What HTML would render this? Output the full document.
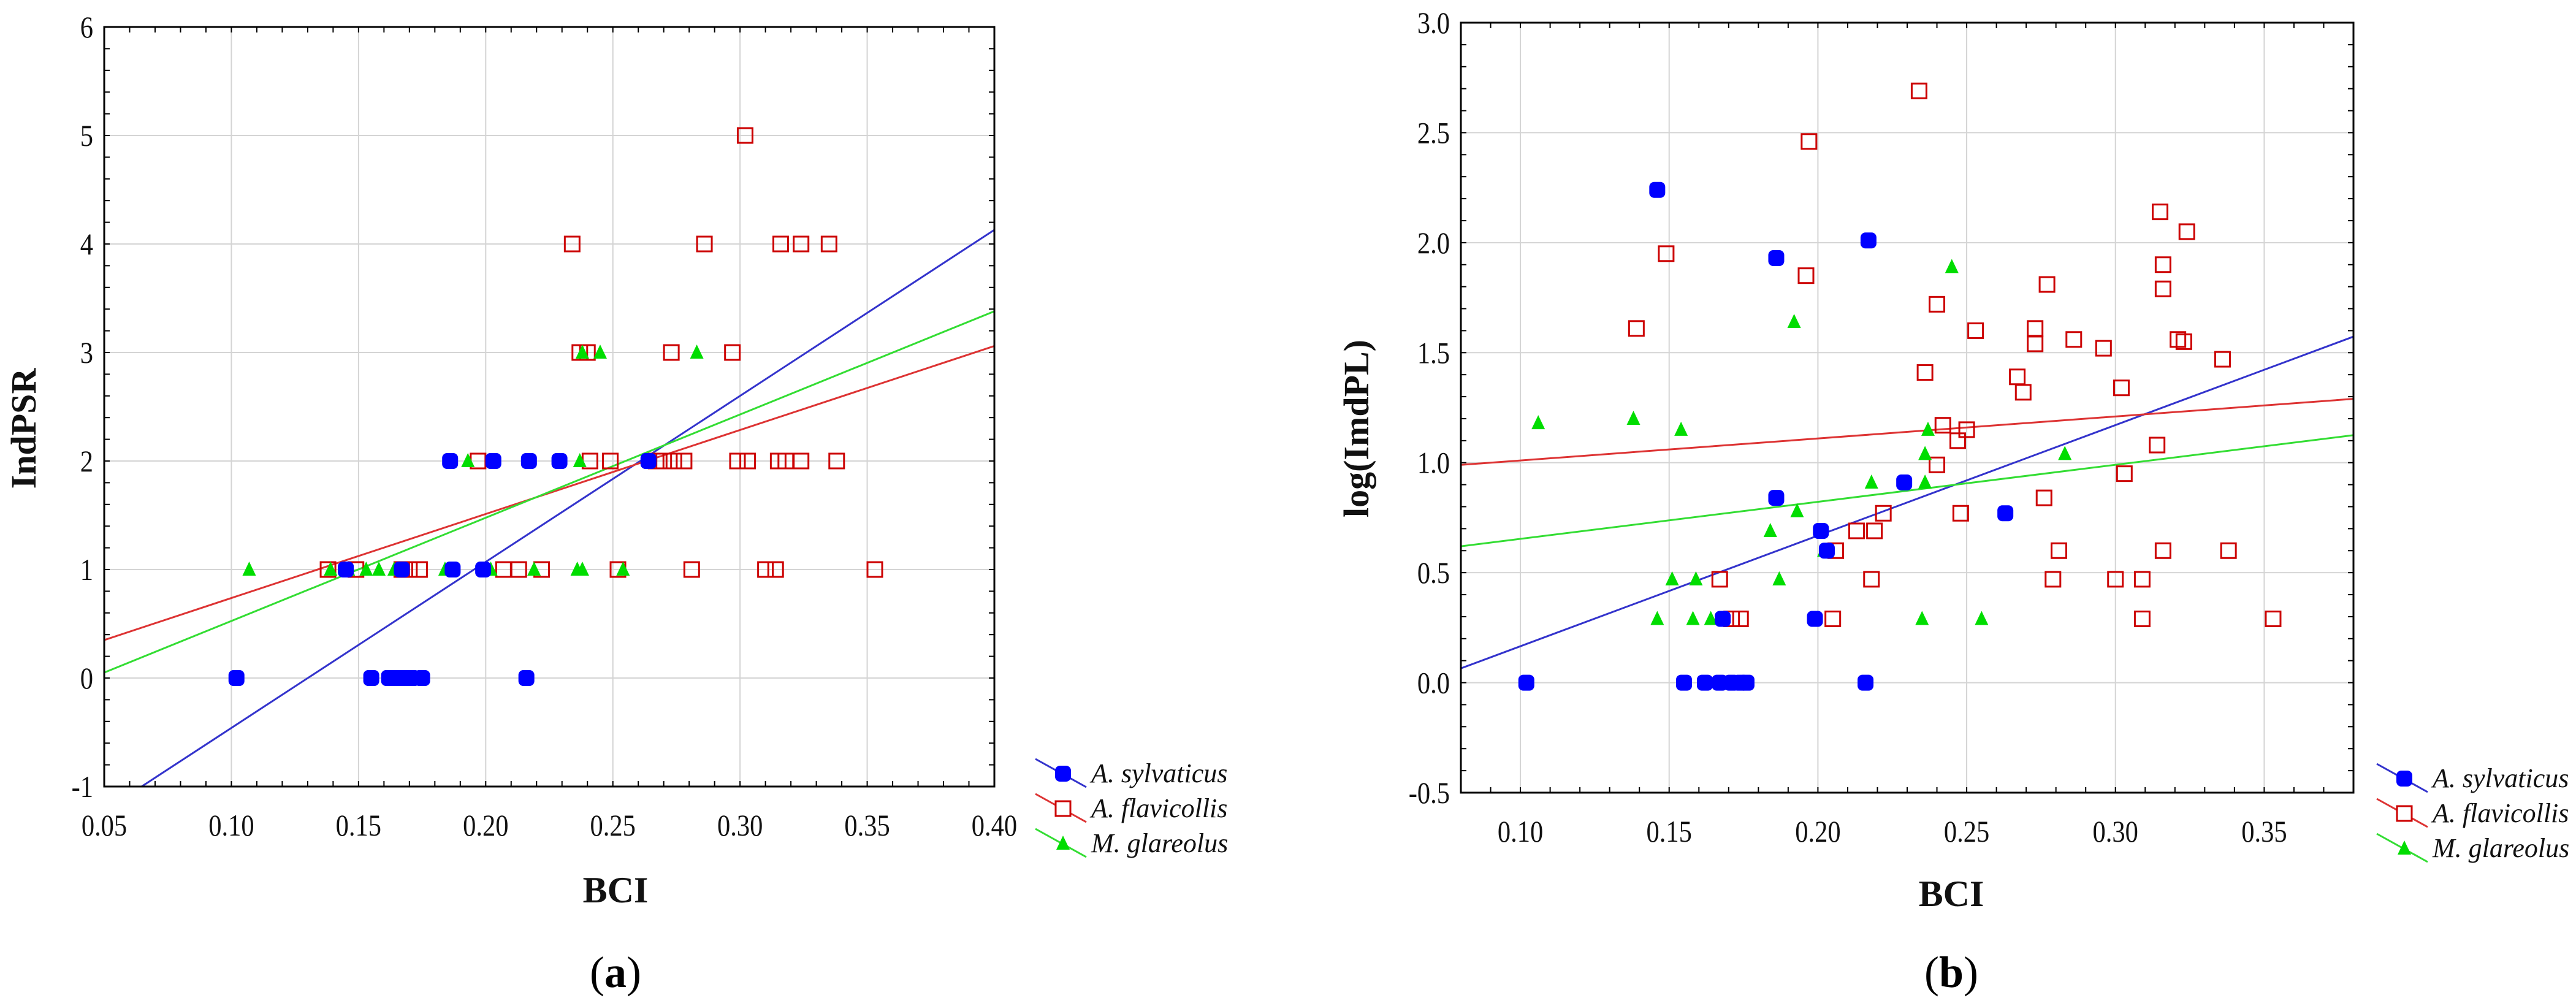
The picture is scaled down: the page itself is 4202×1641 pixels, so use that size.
<!DOCTYPE html>
<html><head><meta charset="utf-8"><style>
html,body{margin:0;padding:0;background:#fff;}
svg{display:block;}
text{font-family:"Liberation Serif",serif;}
</style></head><body>
<svg id="fig" width="4202" height="1641" viewBox="0 0 4202 1641" xmlns="http://www.w3.org/2000/svg"></svg>
<script>
// ---------- Chart (a) data ----------
const aXTicks = [0.05,0.10,0.15,0.20,0.25,0.30,0.35,0.40];
const aXTickLabels = ["0.05","0.10","0.15","0.20","0.25","0.30","0.35","0.40"];
const aYTicks = [-1,0,1,2,3,4,5,6];
const aYTickLabels = ["-1","0","1","2","3","4","5","6"];
const aSylvX = [0.102,0.155,0.162,0.165,0.168,0.171,0.175,0.216,0.145,0.187,0.199,0.167,0.186,0.203,0.217,0.229,0.264];
const aSylvY = [0,0,0,0,0,0,0,0,1,1,1,1,2,2,2,2,2];
const aFlavX = [0.302,0.234,0.286,0.316,0.324,0.335,0.237,0.240,0.273,0.297,0.197,0.241,0.249,0.267,0.270,0.274,0.278,0.299,0.303,0.315,0.318,0.324,0.338,0.138,0.149,0.167,0.170,0.174,0.207,0.213,0.222,0.252,0.281,0.310,0.314,0.353];
const aFlavY = [5,4,4,4,4,4,3,3,3,3,2,2,2,2,2,2,2,2,2,2,2,2,2,1,1,1,1,1,1,1,1,1,1,1,1,1];
const aGlarX = [0.107,0.139,0.146,0.153,0.158,0.164,0.184,0.187,0.202,0.219,0.236,0.238,0.254,0.193,0.237,0.238,0.245,0.283];
const aGlarY = [1,1,1,1,1,1,1,1,1,1,1,1,1,2,2,3,3,3];
const aSylvLine = [[0.0647,-1],[0.40,4.13]];
const aFlavLine = [[0.05,0.35],[0.40,3.06]];
const aGlarLine = [[0.05,0.05],[0.40,3.38]];

// ---------- Chart (b) data ----------
const bXTicks = [0.10,0.15,0.20,0.25,0.30,0.35];
const bXTickLabels = ["0.10","0.15","0.20","0.25","0.30","0.35"];
const bYTicks = [-0.5,0,0.5,1.0,1.5,2.0,2.5,3.0];
const bYTickLabels = ["-0.5","0.0","0.5","1.0","1.5","2.0","2.5","3.0"];
const bSylvX = [0.102,0.146,0.186,0.217,0.186,0.201,0.203,0.229,0.263,0.199,0.168,0.155,0.162,0.167,0.171,0.174,0.176,0.216];
const bSylvY = [0.0,2.24,1.93,2.01,0.84,0.69,0.60,0.91,0.77,0.29,0.29,0,0,0,0,0,0,0];
const bFlavX = [0.234,0.197,0.149,0.196,0.139,0.240,0.277,0.253,0.273,0.273,0.286,0.296,0.236,0.267,0.269,0.302,0.315,0.324,0.316,0.316,0.321,0.323,0.336,0.314,0.303,0.242,0.250,0.247,0.240,0.222,0.248,0.213,0.219,0.206,0.276,0.281,0.316,0.338,0.167,0.218,0.279,0.300,0.309,0.171,0.174,0.205,0.309,0.353];
const bFlavY = [2.69,2.46,1.95,1.85,1.61,1.72,1.81,1.60,1.61,1.54,1.56,1.52,1.41,1.39,1.32,1.34,2.14,2.05,1.90,1.79,1.56,1.55,1.47,1.08,0.95,1.17,1.15,1.10,0.99,0.77,0.77,0.69,0.69,0.60,0.84,0.60,0.60,0.60,0.47,0.47,0.47,0.47,0.47,0.29,0.29,0.29,0.29,0.29];
const bGlarX = [0.106,0.138,0.154,0.192,0.245,0.237,0.236,0.283,0.218,0.236,0.193,0.184,0.202,0.151,0.159,0.187,0.146,0.158,0.164,0.235,0.255];
const bGlarY = [1.18,1.20,1.15,1.64,1.89,1.15,1.04,1.04,0.91,0.91,0.78,0.69,0.60,0.47,0.47,0.47,0.29,0.29,0.29,0.29,0.29];
const bSylvLine = [[0.08,0.065],[0.38,1.573]];
const bFlavLine = [[0.08,0.99],[0.38,1.29]];
const bGlarLine = [[0.08,0.62],[0.38,1.125]];

const NS = "http://www.w3.org/2000/svg";
const svg = document.getElementById('fig');
function mk(tag, attrs, parent){
  const e = document.createElementNS(NS, tag);
  for (const k in attrs) e.setAttribute(k, attrs[k]);
  (parent||svg).appendChild(e);
  return e;
}
const BLUE="#0000ff", RED="#cc0000", GREEN="#00dd00";
const LBLUE="#3333cc", LRED="#dd3333", LGREEN="#33dd33";

function chart(cfg){
  const g = mk('g', {});
  
  
  const sx = v => cfg.L + (v - cfg.xmin)/(cfg.xmax - cfg.xmin)*(cfg.R - cfg.L);
  const sy = v => cfg.B - (v - cfg.ymin)/(cfg.ymax - cfg.ymin)*(cfg.B - cfg.T);
  // grid
  cfg.xTicks.forEach((t,i)=>{
    const x = sx(t);
    const gl = mk('line',{x1:x,y1:cfg.T,x2:x,y2:cfg.B,stroke:'#d4d4d4','stroke-width':2},g);
    
    
    const tl = mk('text',{x:x,y:cfg.B+80,'font-size':50,'text-anchor':'middle',fill:'#111',transform:`translate(${x},0) scale(0.85,1) translate(${-x},0)`},g);
    tl.textContent = cfg.xTickLabels[i];
    
    
  });
  cfg.yTicks.forEach((t,i)=>{
    const y = sy(t);
    const gl = mk('line',{x1:cfg.L,y1:y,x2:cfg.R,y2:y,stroke:'#d4d4d4','stroke-width':2},g);
    
    
    const tl = mk('text',{x:cfg.L-18,y:y+17,'font-size':50,'text-anchor':'end',fill:'#111',transform:`translate(${cfg.L-18},0) scale(0.85,1) translate(${-(cfg.L-18)},0)`},g);
    tl.textContent = cfg.yTickLabels[i];
    
    
  });
  // minor ticks
  for (let v = cfg.xmin; v <= cfg.xmax + 1e-9; v += cfg.xMinor){
    const x = sx(v);
    mk('line',{x1:x,y1:cfg.B,x2:x,y2:cfg.B-9,stroke:'#000','stroke-width':2},g);
    mk('line',{x1:x,y1:cfg.T,x2:x,y2:cfg.T+9,stroke:'#000','stroke-width':2},g);
  }
  for (let v = cfg.ymin; v <= cfg.ymax + 1e-9; v += cfg.yMinor){
    const y = sy(v);
    mk('line',{x1:cfg.L,y1:y,x2:cfg.L+9,y2:y,stroke:'#000','stroke-width':2},g);
    mk('line',{x1:cfg.R,y1:y,x2:cfg.R-9,y2:y,stroke:'#000','stroke-width':2},g);
  }
  // clip
  const cid = cfg.name+'-clip';
  const cp = mk('clipPath',{id:cid},g);
  mk('rect',{x:cfg.L,y:cfg.T,width:cfg.R-cfg.L,height:cfg.B-cfg.T},cp);
  // regression lines
  [[cfg.sylvLine,LBLUE,'regression-line-sylvaticus'],[cfg.flavLine,LRED,'regression-line-flavicollis'],[cfg.glarLine,LGREEN,'regression-line-glareolus']].forEach(([ln,c,n])=>{
    const l = mk('line',{x1:sx(ln[0][0]),y1:sy(ln[0][1]),x2:sx(ln[1][0]),y2:sy(ln[1][1]),stroke:c,'stroke-width':3,'clip-path':`url(#${cid})`},g);
    
    
  });
  // points
  cfg.flavX.forEach((xv,i)=>{
    const p = mk('rect',{x:sx(xv)-12,y:sy(cfg.flavY[i])-12,width:24,height:24,fill:'none',stroke:RED,'stroke-width':3},g);
    
    
  });
  cfg.glarX.forEach((xv,i)=>{
    const x = sx(xv), y = sy(cfg.glarY[i]);
    const p = mk('polygon',{points:`${x},${y-13} ${x+11},${y+10} ${x-11},${y+10}`,fill:GREEN},g);
    
    
  });
  cfg.sylvX.forEach((xv,i)=>{
    const p = mk('rect',{x:sx(xv)-13,y:sy(cfg.sylvY[i])-13,width:26,height:26,rx:8,fill:BLUE},g);
    
    
  });
  // frame
  const f = mk('rect',{x:cfg.L,y:cfg.T,width:cfg.R-cfg.L,height:cfg.B-cfg.T,fill:'none',stroke:'#000','stroke-width':3},g);
  
  
  // axis titles
  const xt = mk('text',{x:cfg.xTitleX,y:cfg.xTitleY,'font-size':60,'font-weight':'bold','text-anchor':'middle',fill:'#111'},g);
  xt.textContent = 'BCI';
  
  
  const yt = mk('text',{x:0,y:0,'font-size':58,'font-weight':'bold','text-anchor':'middle',fill:'#111',transform:`translate(${cfg.yTitleX},${cfg.yTitleY}) rotate(-90)`},g);
  yt.textContent = cfg.yTitle;
  
  
  const pl = mk('text',{x:cfg.xTitleX,y:1610,'font-size':72,'text-anchor':'middle',fill:'#000'},g);
  pl.innerHTML = '(<tspan font-weight="bold">'+cfg.panel+'</tspan>)';
  
  
  // legend
  const lg = mk('g',{},g);
  
  
  const names = ['A. sylvaticus','A. flavicollis','M. glareolus'];
  const cols = [LBLUE,LRED,LGREEN];
  names.forEach((n,i)=>{
    const y = cfg.legY + i*57, mx = cfg.legX;
    const e = mk('g',{},lg);
    
    
    mk('line',{x1:mx-45,y1:y-24,x2:mx+38,y2:y+22,stroke:cols[i],'stroke-width':3},e);
    if(i===0) mk('rect',{x:mx-13,y:y-13,width:26,height:26,rx:8,fill:BLUE},e);
    if(i===1) mk('rect',{x:mx-12,y:y-12,width:24,height:24,fill:'#fff',stroke:RED,'stroke-width':3},e);
    if(i===2) mk('polygon',{points:`${mx},${y-13} ${mx+11},${y+10} ${mx-11},${y+10}`,fill:GREEN},e);
    const t = mk('text',{x:mx+46,y:y+14,'font-size':44,'font-style':'italic',fill:'#111'},e);
    t.textContent = n;
  });
}

chart({name:'chart-a-indpsr',L:170,R:1622,T:44,B:1283,xmin:0.05,xmax:0.40,ymin:-1,ymax:6,xMinor:0.01,yMinor:0.2,
  xTicks:aXTicks,xTickLabels:aXTickLabels,yTicks:aYTicks,yTickLabels:aYTickLabels,
  sylvX:aSylvX,sylvY:aSylvY,flavX:aFlavX,flavY:aFlavY,glarX:aGlarX,glarY:aGlarY,
  sylvLine:aSylvLine,flavLine:aFlavLine,glarLine:aGlarLine,
  xTitleX:1004,xTitleY:1472,yTitle:'IndPSR',yTitleX:58,yTitleY:699,panel:'a',legX:1734,legY:1262});
chart({name:'chart-b-logimdpl',L:2383,R:3839,T:37,B:1293,xmin:0.08,xmax:0.38,ymin:-0.5,ymax:3.0,xMinor:0.01,yMinor:0.1,
  xTicks:bXTicks,xTickLabels:bXTickLabels,yTicks:bYTicks,yTickLabels:bYTickLabels,
  sylvX:bSylvX,sylvY:bSylvY,flavX:bFlavX,flavY:bFlavY,glarX:bGlarX,glarY:bGlarY,
  sylvLine:bSylvLine,flavLine:bFlavLine,glarLine:bGlarLine,
  xTitleX:3183,xTitleY:1478,yTitle:'log(ImdPL)',yTitleX:2232,yTitleY:699,panel:'b',legX:3922,legY:1270});
</script>
</body></html>
